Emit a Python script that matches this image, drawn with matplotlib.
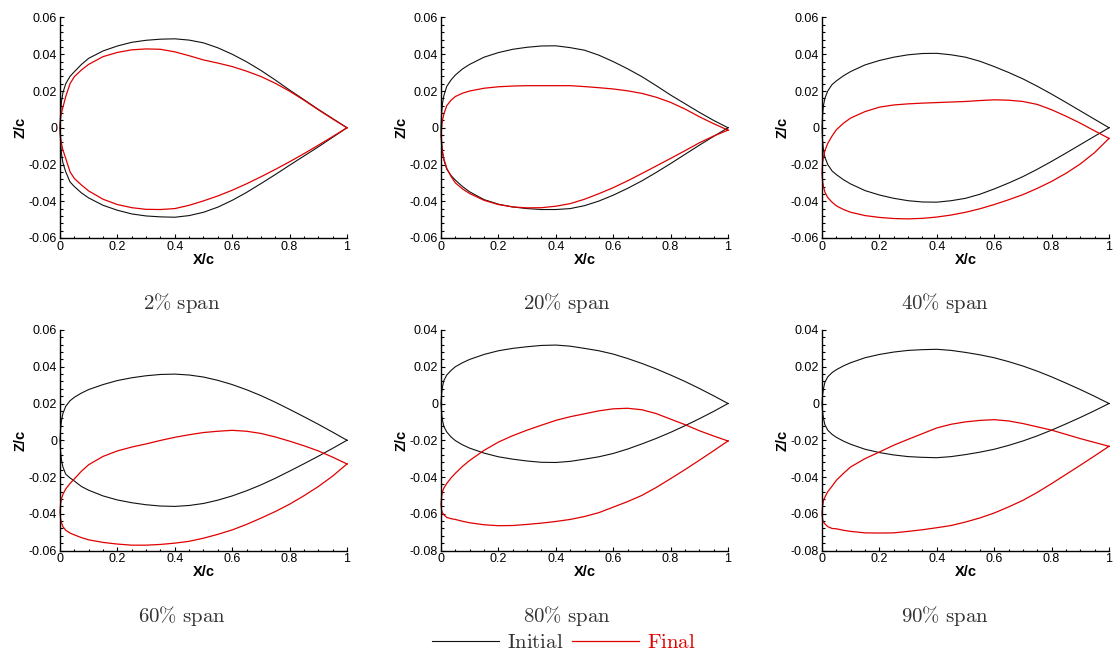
import matplotlib
matplotlib.use('Agg')
import matplotlib.pyplot as plt
from matplotlib.ticker import MultipleLocator, FuncFormatter
from matplotlib.lines import Line2D

plt.rcParams['mathtext.fontset'] = 'cm'
plt.rcParams['axes.unicode_minus'] = False
plt.rcParams['font.family'] = ['Liberation Sans', 'DejaVu Sans']

# chordwise stations (x/c)
X = [0, 0.002, 0.005, 0.01, 0.02, 0.035, 0.05, 0.075, 0.1, 0.15, 0.2, 0.25, 0.3, 0.35,
     0.4, 0.45, 0.5, 0.55, 0.6, 0.65, 0.7, 0.75, 0.8, 0.85, 0.9, 0.95, 1.0]

# 2% span
init_up_2 = [0, 0.008, 0.014, 0.019, 0.024, 0.028, 0.0305, 0.0345, 0.0378, 0.0418, 0.0445, 0.0465, 0.0476, 0.0482,
             0.0484, 0.0477, 0.0462, 0.0435, 0.0400, 0.0359, 0.0312, 0.0260, 0.0205, 0.0153, 0.0100, 0.0050, 0]
init_lo_2 = [0, -0.008, -0.014, -0.019, -0.024, -0.0295, -0.032, -0.0355, -0.0382, -0.0422, -0.0449, -0.0469, -0.048, -0.0485,
             -0.0487, -0.0478, -0.046, -0.0432, -0.0395, -0.0352, -0.0304, -0.0255, -0.0204, -0.0154, -0.0104, -0.0052, 0]
fin_up_2 = [0, 0.005, 0.008, 0.011, 0.017, 0.024, 0.0278, 0.0315, 0.0345, 0.0387, 0.041, 0.0424, 0.0429, 0.0427,
            0.0413, 0.0392, 0.0369, 0.0352, 0.0333, 0.0308, 0.0279, 0.0242, 0.0199, 0.0150, 0.0098, 0.0048, 0]
fin_lo_2 = [0, -0.005, -0.0085, -0.012, -0.0167, -0.024, -0.0276, -0.0312, -0.0344, -0.0389, -0.0418, -0.0435, -0.0444, -0.0445,
            -0.044, -0.0422, -0.0398, -0.0371, -0.034, -0.0305, -0.0267, -0.0227, -0.0185, -0.0141, -0.0095, -0.0048, 0]

# 20% span
init_up_20 = [0, 0.0075, 0.013, 0.0175, 0.0225, 0.026, 0.0287, 0.032, 0.0345, 0.0384, 0.0409, 0.0427, 0.0438, 0.0445,
              0.0446, 0.0436, 0.0422, 0.0395, 0.036, 0.0321, 0.0278, 0.0229, 0.0178, 0.0131, 0.0084, 0.0040, 0]
init_lo_20 = [0, -0.0075, -0.013, -0.0175, -0.0225, -0.026, -0.0285, -0.032, -0.0349, -0.0391, -0.0416, -0.0431, -0.044, -0.0445,
              -0.0445, -0.044, -0.0424, -0.0399, -0.0367, -0.033, -0.0289, -0.0243, -0.0195, -0.0145, -0.0095, -0.0047, 0]
fin_up_20 = [-0.004, 0.0, 0.004, 0.0075, 0.012, 0.015, 0.017, 0.0188, 0.020, 0.0215, 0.0223, 0.0227, 0.0229, 0.0229,
             0.0229, 0.0229, 0.0224, 0.0218, 0.0211, 0.0201, 0.0187, 0.0166, 0.0138, 0.0102, 0.006, 0.0022, -0.0013]
fin_lo_20 = [-0.004, -0.009, -0.013, -0.017, -0.022, -0.0265, -0.030, -0.0333, -0.0358, -0.0395, -0.0418, -0.0431, -0.0436, -0.0435,
             -0.0427, -0.0413, -0.0389, -0.0359, -0.0326, -0.0289, -0.0249, -0.0208, -0.0167, -0.0125, -0.0082, -0.0045, -0.0013]

# 40% span
init_up_40 = [0, 0.007, 0.012, 0.016, 0.020, 0.0235, 0.0255, 0.0283, 0.0306, 0.0342, 0.0366, 0.0384, 0.0397, 0.0404,
              0.0405, 0.0397, 0.0384, 0.0362, 0.0333, 0.0301, 0.0266, 0.0226, 0.0183, 0.0138, 0.0092, 0.0046, 0]
init_lo_40 = [0, -0.007, -0.012, -0.016, -0.020, -0.0235, -0.0255, -0.0283, -0.0306, -0.0342, -0.0366, -0.0384, -0.0397, -0.0404,
              -0.0405, -0.0397, -0.0384, -0.0362, -0.0333, -0.0301, -0.0266, -0.0226, -0.0183, -0.0138, -0.0092, -0.0046, 0]
fin_up_40 = [-0.025, -0.019, -0.016, -0.0125, -0.0085, -0.0045, -0.0011, 0.0025, 0.0053, 0.0088, 0.0112, 0.0124, 0.013, 0.0134,
             0.0137, 0.014, 0.0143, 0.0148, 0.0152, 0.015, 0.0143, 0.0127, 0.0098, 0.0063, 0.0025, -0.0017, -0.0058]
fin_lo_40 = [-0.025, -0.029, -0.032, -0.035, -0.038, -0.0405, -0.0425, -0.0445, -0.046, -0.0478, -0.0488, -0.0494, -0.0496, -0.0493,
             -0.0486, -0.0475, -0.046, -0.0441, -0.0418, -0.0392, -0.0364, -0.033, -0.0292, -0.0248, -0.0197, -0.0135, -0.0058]

# 60% span
init_up_60 = [0, 0.006, 0.0105, 0.0145, 0.0185, 0.0215, 0.0234, 0.0257, 0.0276, 0.0303, 0.0325, 0.034, 0.0351, 0.0358,
              0.036, 0.0355, 0.0344, 0.0326, 0.0303, 0.0275, 0.0243, 0.0207, 0.0168, 0.0128, 0.0087, 0.0044, 0]
init_lo_60 = [0, -0.006, -0.0105, -0.0145, -0.0185, -0.0205, -0.0222, -0.0252, -0.0272, -0.0303, -0.0325, -0.034, -0.0351, -0.0358,
              -0.036, -0.0355, -0.0344, -0.0326, -0.0303, -0.0275, -0.0243, -0.0207, -0.0168, -0.0128, -0.0087, -0.0044, 0]
fin_up_60 = [-0.039, -0.035, -0.032, -0.0295, -0.0265, -0.0235, -0.021, -0.0168, -0.0133, -0.0088, -0.0058, -0.0037, -0.002, -0.0001,
             0.0016, 0.003, 0.0042, 0.0049, 0.0054, 0.0049, 0.0037, 0.0018, -0.0005, -0.003, -0.0058, -0.0092, -0.0129]
fin_lo_60 = [-0.039, -0.0425, -0.0448, -0.047, -0.049, -0.0505, -0.0515, -0.053, -0.0542, -0.0556, -0.0565, -0.0571, -0.0571, -0.0567,
             -0.056, -0.055, -0.0533, -0.0512, -0.0488, -0.0458, -0.0424, -0.0388, -0.0348, -0.0302, -0.0252, -0.0195, -0.0129]

# 80% span
init_up_80 = [0, 0.005, 0.009, 0.0125, 0.0155, 0.018, 0.020, 0.0222, 0.024, 0.0267, 0.0287, 0.030, 0.0309, 0.0316,
              0.0318, 0.0312, 0.030, 0.0287, 0.0269, 0.0245, 0.0218, 0.0188, 0.0155, 0.012, 0.0082, 0.0042, 0]
init_lo_80 = [0, -0.005, -0.009, -0.0125, -0.0155, -0.0182, -0.0202, -0.0225, -0.0243, -0.027, -0.029, -0.0303, -0.0313, -0.032,
              -0.0321, -0.0315, -0.0303, -0.029, -0.0272, -0.0248, -0.022, -0.019, -0.0157, -0.0121, -0.0083, -0.0043, 0]
fin_up_80 = [-0.055, -0.051, -0.048, -0.046, -0.0435, -0.0405, -0.038, -0.0342, -0.031, -0.0255, -0.021, -0.0175, -0.0145, -0.0118,
             -0.0092, -0.0072, -0.0056, -0.0040, -0.0029, -0.0026, -0.0034, -0.0055, -0.0085, -0.0115, -0.0148, -0.0177, -0.0204]
fin_lo_80 = [-0.055, -0.058, -0.0595, -0.0605, -0.062, -0.0627, -0.0631, -0.0641, -0.0649, -0.066, -0.0665, -0.0664, -0.0658, -0.0651,
             -0.0642, -0.0631, -0.0615, -0.0594, -0.0564, -0.0534, -0.05, -0.0457, -0.0409, -0.036, -0.0309, -0.0257, -0.0204]

# 90% span
init_up_90 = [0, 0.0045, 0.008, 0.0115, 0.0145, 0.0168, 0.0184, 0.0205, 0.0222, 0.0249, 0.0267, 0.028, 0.0289, 0.0293,
              0.0295, 0.0289, 0.0278, 0.0265, 0.0249, 0.0228, 0.0204, 0.0176, 0.0145, 0.0111, 0.0076, 0.0039, 0]
init_lo_90 = [0, -0.0045, -0.008, -0.0115, -0.0145, -0.0168, -0.0184, -0.0205, -0.0222, -0.0249, -0.0267, -0.028, -0.0289, -0.0293,
              -0.0295, -0.0289, -0.0278, -0.0265, -0.0249, -0.0228, -0.0204, -0.0176, -0.0145, -0.0111, -0.0076, -0.0039, 0]
fin_up_90 = [-0.06, -0.056, -0.053, -0.051, -0.048, -0.045, -0.0418, -0.038, -0.0345, -0.030, -0.0264, -0.0227, -0.0195, -0.0164,
             -0.0133, -0.0113, -0.010, -0.0092, -0.0088, -0.0095, -0.0109, -0.0127, -0.0145, -0.0168, -0.0191, -0.0212, -0.0233]
fin_lo_90 = [-0.06, -0.063, -0.0645, -0.0655, -0.067, -0.068, -0.0682, -0.069, -0.0696, -0.0704, -0.0705, -0.0704, -0.0696, -0.0687,
             -0.0676, -0.0664, -0.0645, -0.0623, -0.0596, -0.0563, -0.0527, -0.0484, -0.0436, -0.0386, -0.0336, -0.0285, -0.0233]

span_labels = ['2% span', '20% span', '40% span', '60% span', '80% span', '90% span']
y_limits = [(-0.06, 0.06), (-0.06, 0.06), (-0.06, 0.06), (-0.06, 0.06), (-0.08, 0.04), (-0.08, 0.04)]

panels = [
    (init_up_2, init_lo_2, fin_up_2, fin_lo_2),
    (init_up_20, init_lo_20, fin_up_20, fin_lo_20),
    (init_up_40, init_lo_40, fin_up_40, fin_lo_40),
    (init_up_60, init_lo_60, fin_up_60, fin_lo_60),
    (init_up_80, init_lo_80, fin_up_80, fin_lo_80),
    (init_up_90, init_lo_90, fin_up_90, fin_lo_90),
]
for p in panels:
    for arr in p:
        assert len(arr) == len(X), len(arr)

W, H = 1115, 656
fig = plt.figure(figsize=(W / 100, H / 100), dpi=100)

lefts = [60, 441, 822]
bottoms = [238, 550.5]
aw, ah = 287, 220.5
cap_x = [182, 567, 945]
cap_y = [303, 616]

BLACK = '#111111'
RED = '#e00000'


def closed(up, lo):
    xs = X[::-1] + X[1:]
    zs = up[::-1] + lo[1:]
    return xs, zs


def yfmt(v, _):
    if abs(v) < 1e-9:
        return '0'
    return f'{v:.2f}'


def xfmt(v, _):
    return f'{v:g}'


for i, (iu, il, fu, fl) in enumerate(panels):
    r, c = divmod(i, 3)
    ax = fig.add_axes([lefts[c] / W, 1 - bottoms[r] / H, aw / W, ah / H])
    xs, zs = closed(iu, il)
    ax.plot(xs, zs, color=BLACK, lw=0.8, clip_on=False)
    xs, zs = closed(fu, fl)
    ax.plot(xs, zs, color=RED, lw=0.9, clip_on=False)
    ax.set_xlim(0, 1)
    ax.set_ylim(*y_limits[i])
    ax.spines['top'].set_visible(False)
    ax.spines['right'].set_visible(False)
    for s in ('left', 'bottom'):
        ax.spines[s].set_linewidth(1.0)
    ax.xaxis.set_major_locator(MultipleLocator(0.2))
    ax.xaxis.set_minor_locator(MultipleLocator(0.05))
    ax.yaxis.set_major_locator(MultipleLocator(0.02))
    ax.yaxis.set_minor_locator(MultipleLocator(0.004))
    ax.xaxis.set_major_formatter(FuncFormatter(xfmt))
    ax.yaxis.set_major_formatter(FuncFormatter(yfmt))
    ax.tick_params(which='both', direction='in', top=False, right=False, labelsize=9, width=0.8)
    ax.tick_params(which='major', length=3.2, pad=2)
    ax.tick_params(which='minor', length=1.8)
    ax.set_xlabel('X/c', fontsize=10.5, fontweight='bold', labelpad=0)
    ax.set_ylabel('Z/c', fontsize=10.5, fontweight='bold', labelpad=1)
    fig.text(cap_x[c] / W, 1 - cap_y[r] / H,
             r'$\mathrm{' + span_labels[i].replace('%', r'\%').replace(' ', r'\ ') + '}$',
             ha='center', va='center', fontsize=15, color='#333333')

handles = [Line2D([], [], color=BLACK, lw=0.8), Line2D([], [], color=RED, lw=0.9)]
leg = fig.legend(handles, [r'$\mathrm{Initial}$', r'$\mathrm{Final}$'], loc='center',
                 bbox_to_anchor=(564 / W, 1 - 643 / H), ncol=2, frameon=False, fontsize=15,
                 handlelength=3.2, handletextpad=0.4, columnspacing=0.4, borderpad=0, borderaxespad=0)
leg.get_texts()[0].set_color('#333333')
leg.get_texts()[1].set_color(RED)

fig.savefig('out.png', dpi=100)
